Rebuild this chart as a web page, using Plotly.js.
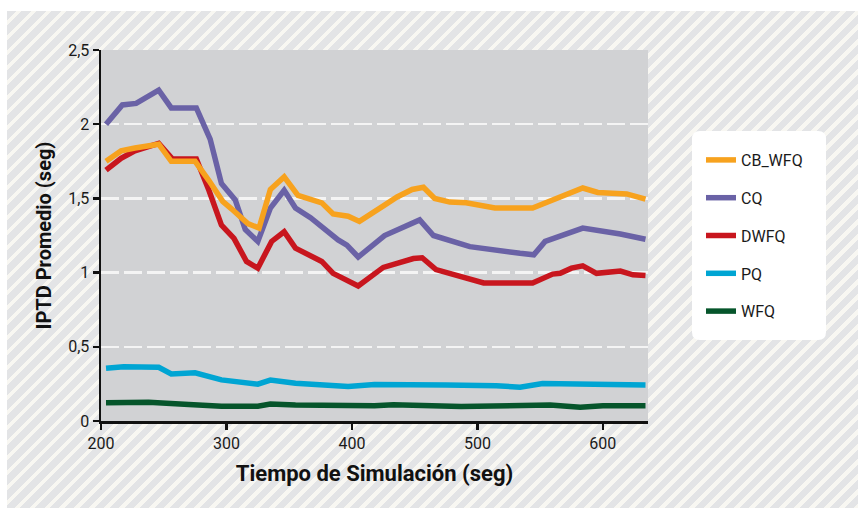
<!DOCTYPE html>
<html>
<head>
<meta charset="utf-8">
<script src="https://cdn.plot.ly/plotly-3.0.1.min.js"></script>
<style>
  html, body { margin: 0; padding: 0; background: #ffffff; width: 858px; height: 508px; overflow: hidden; }
  #bg { position: absolute; left: 7px; top: 11px; width: 851px; height: 497px;
        background: repeating-linear-gradient(135deg, #e3e4e6 0px, #e3e4e6 6.6px, #f8f7f2 6.6px, #f8f7f2 10.6px); }
  #chart { position: absolute; left: 0; top: 0; width: 858px; height: 508px; }
</style>
</head>
<body>
<div id="bg"></div>
<div id="chart"></div>
<script>
// Series data
const seriesNames = ["CB_WFQ", "CQ", "DWFQ", "PQ", "WFQ"];

const cbwfqX = [204, 216, 227, 246, 256, 275, 286, 297, 304, 317, 326, 335, 346, 357, 376, 385, 397, 406, 426, 436, 448, 457, 466, 478, 491, 514, 544, 566, 584, 596, 619, 634];
const cbwfqY = [1.75, 1.82, 1.84, 1.865, 1.75, 1.75, 1.62, 1.48, 1.43, 1.33, 1.30, 1.56, 1.645, 1.52, 1.47, 1.395, 1.38, 1.345, 1.455, 1.51, 1.56, 1.575, 1.50, 1.475, 1.47, 1.435, 1.435, 1.51, 1.57, 1.54, 1.53, 1.495];

const cqX = [204, 217, 228, 246, 256, 276, 287, 296, 307, 315, 325, 335, 346, 355, 367, 377, 389, 396, 405, 426, 454, 465, 494, 534, 545, 554, 574, 584, 614, 634];
const cqY = [2.0, 2.13, 2.14, 2.23, 2.11, 2.11, 1.90, 1.60, 1.49, 1.29, 1.21, 1.435, 1.555, 1.435, 1.37, 1.30, 1.22, 1.185, 1.105, 1.25, 1.355, 1.25, 1.175, 1.13, 1.12, 1.21, 1.275, 1.30, 1.26, 1.225];

const dwfqX = [204, 216, 227, 246, 257, 276, 286, 296, 306, 316, 325, 336, 346, 355, 376, 385, 405, 425, 449, 456, 467, 486, 505, 544, 560, 566, 575, 584, 595, 614, 624, 634];
const dwfqY = [1.69, 1.77, 1.82, 1.87, 1.765, 1.765, 1.555, 1.32, 1.23, 1.075, 1.03, 1.21, 1.275, 1.165, 1.075, 0.995, 0.91, 1.035, 1.095, 1.10, 1.02, 0.975, 0.93, 0.93, 0.99, 0.995, 1.03, 1.045, 0.995, 1.01, 0.985, 0.98];

const pqX = [204, 218, 246, 256, 275, 296, 325, 335, 355, 381, 397, 418, 461, 475, 515, 534, 552, 574, 603, 634];
const pqY = [0.355, 0.365, 0.362, 0.317, 0.325, 0.277, 0.248, 0.276, 0.255, 0.243, 0.232, 0.246, 0.25, 0.243, 0.238, 0.228, 0.253, 0.25, 0.238, 0.243];

const wfqX = [204, 238, 270, 296, 325, 335, 355, 381, 418, 433, 467, 487, 558, 582, 600, 634];
const wfqY = [0.123, 0.126, 0.112, 0.10, 0.10, 0.115, 0.108, 0.104, 0.103, 0.11, 0.10, 0.097, 0.108, 0.093, 0.103, 0.103];

const xTicks = [200, 300, 400, 500, 600];
const yTicks = [0, 0.5, 1, 1.5, 2, 2.5];
const yTickText = ["0", "0,5", "1", "1,5", "2", "2,5"];

const colors = {
  "CB_WFQ": "#f7a21e",
  "CQ": "#6a62a6",
  "DWFQ": "#c8161e",
  "PQ": "#00a5d3",
  "WFQ": "#06552b"
};

const FONT = "'Roboto', 'Liberation Sans', sans-serif";

function mk(name, x, y) {
  return {
    type: "scatter", mode: "lines", name: name, x: x, y: y,
    legendgroup: name,
    legendrank: seriesNames.indexOf(name) + 1,
    line: { color: colors[name], width: 5.5 },
    hoverinfo: "skip"
  };
}

// drawn bottom-to-top; legend ordered by legendrank
const data = [
  mk("WFQ", wfqX, wfqY),
  mk("PQ", pqX, pqY),
  mk("DWFQ", dwfqX, dwfqY),
  mk("CQ", cqX, cqY),
  mk("CB_WFQ", cbwfqX, cbwfqY)
];

const L = 101, R = 648, T = 50, B = 421;
const W = R - L, H = B - T;
function px(x) { return (x - L) / W; }
function py(y) { return (B - y) / H; }

function roundRect(x0, y0, x1, y1, r) {
  const rx = r / W, ry = r / H;
  const a = px(x0), b = px(x1), top = py(y0), bot = py(y1);
  return `M${a + rx},${bot} L${b - rx},${bot} Q${b},${bot} ${b},${bot + ry} L${b},${top - ry} Q${b},${top} ${b - rx},${top} L${a + rx},${top} Q${a},${top} ${a},${top - ry} L${a},${bot + ry} Q${a},${bot} ${a + rx},${bot} Z`;
}

const layout = {
  width: 858, height: 508,
  margin: { l: L, r: 858 - R, t: T, b: 508 - B, pad: 0 },
  paper_bgcolor: "rgba(0,0,0,0)",
  plot_bgcolor: "#d1d2d4",
  separators: ",.",
  font: { family: FONT, size: 15, color: "#1a1a1a" },
  showlegend: true,
  xaxis: {
    range: [200, 636], tickvals: xTicks, ticktext: xTicks.map(String),
    showgrid: false, zeroline: false,
    showline: true, linecolor: "#111111", linewidth: 2.5,
    ticks: "outside", ticklen: 6, tickwidth: 2.5, tickcolor: "#111111",
    tickfont: { family: FONT, size: 16, color: "#1a1a1a" },
    title: { text: "<b>Tiempo de Simulación (seg)</b>", font: { family: FONT, size: 22, color: "#111111" }, standoff: 14 },
    automargin: false, fixedrange: true
  },
  yaxis: {
    range: [0, 2.5], tickvals: yTicks, ticktext: yTickText,
    showgrid: true, gridcolor: "#f4f4f4", gridwidth: 2.5, griddash: "18px,5px",
    zeroline: false,
    showline: true, linecolor: "#111111", linewidth: 2.5,
    ticks: "outside", ticklen: 6, tickwidth: 2.5, tickcolor: "#111111",
    tickfont: { family: FONT, size: 16, color: "#1a1a1a" },
    title: { text: "<b>IPTD Promedio (seg)</b>", font: { family: FONT, size: 20, color: "#111111" }, standoff: 11 },
    automargin: false, fixedrange: true
  },
  legend: {
    x: px(701), y: py(143), xanchor: "left", yanchor: "top",
    bgcolor: "rgba(0,0,0,0)", borderwidth: 0,
    traceorder: "grouped", tracegroupgap: 14,
    font: { family: FONT, size: 16, color: "#1a1a1a" }
  },
  shapes: [{
    type: "path", xref: "paper", yref: "paper", layer: "below",
    path: roundRect(692, 131, 826, 340, 8),
    fillcolor: "#ffffff", line: { width: 0 }
  }]
};

Plotly.newPlot("chart", data, layout, { staticPlot: true, displayModeBar: false });
</script>
</body>
</html>
